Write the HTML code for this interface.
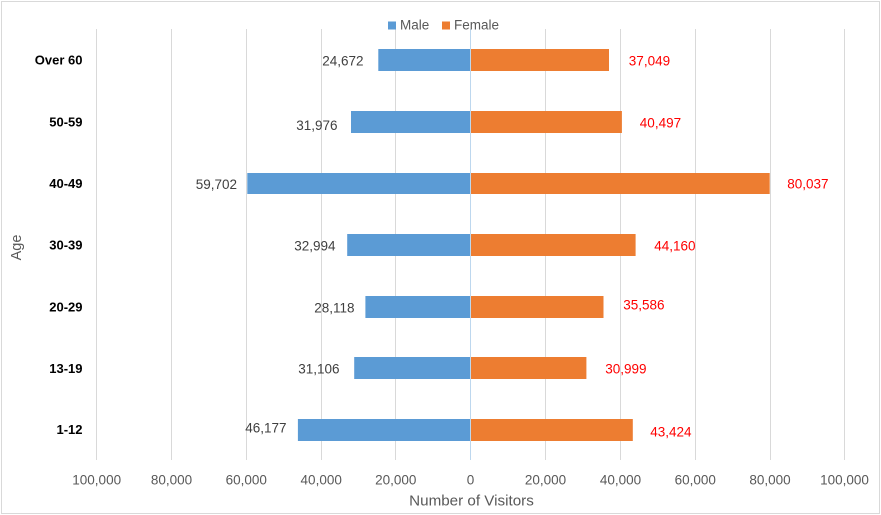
<!DOCTYPE html>
<html>
<head>
<meta charset="utf-8">
<style>
  html, body { margin: 0; padding: 0; background: #fff; }
  svg { display: block; }
  text { font-family: "Liberation Sans", Arial, sans-serif; }
</style>
</head>
<body>
<svg width="881" height="515" viewBox="0 0 881 515" xmlns="http://www.w3.org/2000/svg">
  <rect x="0" y="0" width="881" height="515" fill="#ffffff"/>
  <rect x="1.5" y="1.5" width="878" height="512" fill="none" stroke="#d9d9d9" stroke-width="1"/>

  <!-- gridlines -->
  <g stroke="#d9d9d9" stroke-width="1">
    <line x1="96.5" y1="29" x2="96.5" y2="460"/>
    <line x1="171.5" y1="29" x2="171.5" y2="460"/>
    <line x1="246.5" y1="29" x2="246.5" y2="460"/>
    <line x1="321.5" y1="29" x2="321.5" y2="460"/>
    <line x1="395.5" y1="29" x2="395.5" y2="460"/>
    <line x1="545.5" y1="29" x2="545.5" y2="460"/>
    <line x1="620.5" y1="29" x2="620.5" y2="460"/>
    <line x1="695.5" y1="29" x2="695.5" y2="460"/>
    <line x1="770.5" y1="29" x2="770.5" y2="460"/>
    <line x1="844.5" y1="29" x2="844.5" y2="460"/>
  </g>

  <!-- male bars -->
  <g fill="#5b9bd5">
    <rect x="378.3" y="49" width="91.7" height="22"/>
    <rect x="351.0" y="111" width="119.0" height="22"/>
    <rect x="247.3" y="173" width="222.7" height="21"/>
    <rect x="347.2" y="234" width="122.8" height="22"/>
    <rect x="365.4" y="296" width="104.6" height="22"/>
    <rect x="354.2" y="357" width="115.8" height="22"/>
    <rect x="297.9" y="419" width="172.1" height="22"/>
  </g>
  <!-- female bars -->
  <g fill="#ed7d31">
    <rect x="471" y="49" width="138.0" height="22"/>
    <rect x="471" y="111" width="150.9" height="22"/>
    <rect x="471" y="173" width="298.7" height="21"/>
    <rect x="471" y="234" width="164.6" height="22"/>
    <rect x="471" y="296" width="132.5" height="22"/>
    <rect x="471" y="357" width="115.4" height="22"/>
    <rect x="471" y="419" width="161.8" height="22"/>
  </g>

  <!-- zero axis line -->
  <line x1="470.5" y1="29" x2="470.5" y2="460" stroke="#bdd7ee" stroke-width="1"/>

  <!-- category labels -->
  <g font-size="13" font-weight="bold" fill="#000" text-anchor="end">
    <text x="82.5" y="64.7">Over 60</text>
    <text x="82.5" y="126.4">50-59</text>
    <text x="82.5" y="188">40-49</text>
    <text x="82.5" y="249.7">30-39</text>
    <text x="82.5" y="311.4">20-29</text>
    <text x="82.5" y="373">13-19</text>
    <text x="82.5" y="434">1-12</text>
  </g>

  <!-- male data labels -->
  <g font-size="13.5" fill="#404040" text-anchor="end">
    <text x="363.5" y="65.7">24,672</text>
    <text x="337.5" y="130">31,976</text>
    <text x="237" y="189">59,702</text>
    <text x="335.5" y="250.7">32,994</text>
    <text x="354.5" y="312.3">28,118</text>
    <text x="339.5" y="373.3">31,106</text>
    <text x="286.5" y="432.7">46,177</text>
  </g>

  <!-- female data labels -->
  <g font-size="13.5" fill="#ff0000" text-anchor="start">
    <text x="628.8" y="65.7">37,049</text>
    <text x="639.8" y="127.7">40,497</text>
    <text x="787.2" y="188.3">80,037</text>
    <text x="654.2" y="250.7">44,160</text>
    <text x="623.2" y="309.7">35,586</text>
    <text x="605.2" y="373.7">30,999</text>
    <text x="650.2" y="436.7">43,424</text>
  </g>

  <!-- x tick labels -->
  <g font-size="13.5" fill="#595959" text-anchor="middle">
    <text x="96.7" y="484.5">100,000</text>
    <text x="171.5" y="484.5">80,000</text>
    <text x="246.3" y="484.5">60,000</text>
    <text x="321.2" y="484.5">40,000</text>
    <text x="395.8" y="484.5">20,000</text>
    <text x="470.5" y="484.5">0</text>
    <text x="545.5" y="484.5">20,000</text>
    <text x="620.5" y="484.5">40,000</text>
    <text x="695.3" y="484.5">60,000</text>
    <text x="770" y="484.5">80,000</text>
    <text x="844.5" y="484.5">100,000</text>
  </g>

  <!-- axis titles -->
  <text x="471.5" y="505.7" font-size="15.2" fill="#595959" text-anchor="middle">Number of Visitors</text>
  <text transform="translate(21,247.5) rotate(-90)" font-size="14.5" fill="#595959" text-anchor="middle">Age</text>

  <!-- legend -->
  <rect x="388" y="21.5" width="8" height="8" fill="#5b9bd5"/>
  <text x="400" y="29.3" font-size="13.5" fill="#595959">Male</text>
  <rect x="442" y="21.5" width="8" height="8" fill="#ed7d31"/>
  <text x="454" y="29.3" font-size="13.5" fill="#595959">Female</text>
</svg>
</body>
</html>
